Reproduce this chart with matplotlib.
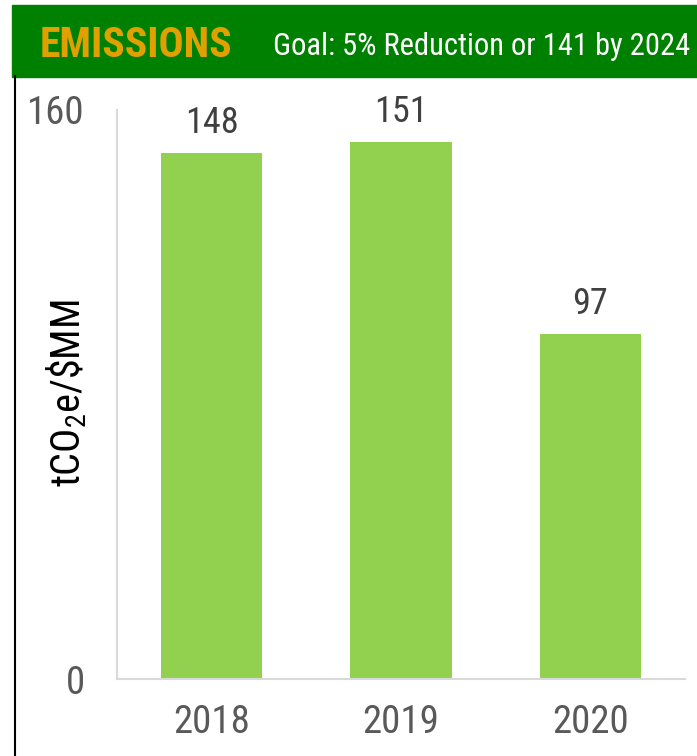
import matplotlib.pyplot as plt
from matplotlib.patches import Rectangle
from matplotlib.lines import Line2D

# Data
years = ["2018", "2019", "2020"]
emissions = [148, 151, 97]
y_ticks = [0, 160]

plt.rcParams['font.family'] = ['Roboto Condensed', 'Archivo Narrow', 'DejaVu Sans']
plt.rcParams['mathtext.default'] = 'regular'

fig = plt.figure(figsize=(6.97, 7.56), dpi=100)
W, H = 697, 756

# green header band
fig.patches.append(Rectangle((12 / W, 1 - 77 / H), 1 - 12 / W, 72 / H,
                             transform=fig.transFigure, color="#008000", zorder=0))
# black frame line on the left
fig.lines.append(Line2D([15 / W, 15 / W], [0, 1 - 76 / H], transform=fig.transFigure,
                        color="black", lw=1.5))

fig.text(40 / W, 1 - 57 / H, "EMISSIONS", color="#E0A000", fontsize=30,
         fontweight="bold", va="baseline", ha="left")
fig.text(690 / W, 1 - 55 / H, "Goal: 5% Reduction or 141 by 2024", color="white",
         fontsize=22, va="baseline", ha="right")

ax = fig.add_axes([117 / W, 1 - 679 / H, (685 - 117) / W, (679 - 110) / H])
x = list(range(len(years)))
ax.bar(x, emissions, width=0.535, color="#92D050", zorder=2)
for xi, v in zip(x, emissions):
    ax.text(xi, v + 5.5, str(v), ha="center", va="baseline", fontsize=26, color="#404040")

ax.set_xlim(-0.5, 2.5)
ax.set_ylim(0, 160)
ax.set_yticks(y_ticks)
ax.set_xticks(x)
ax.set_xticklabels(years)
ax.tick_params(axis="both", length=0, labelsize=28, colors="#595959")
ax.tick_params(axis="x", pad=18)
ax.tick_params(axis="y", pad=23)
for s in ["top", "right"]:
    ax.spines[s].set_visible(False)
for s in ["left", "bottom"]:
    ax.spines[s].set_color("#D9D9D9")
    ax.spines[s].set_linewidth(1.5)

fig.text(67 / W, 1 - 393 / H, "tCO$_2$e/\\$MM", rotation=90, fontsize=29,
         ha="center", va="center", color="black")

fig.savefig("out.png", dpi=100)
